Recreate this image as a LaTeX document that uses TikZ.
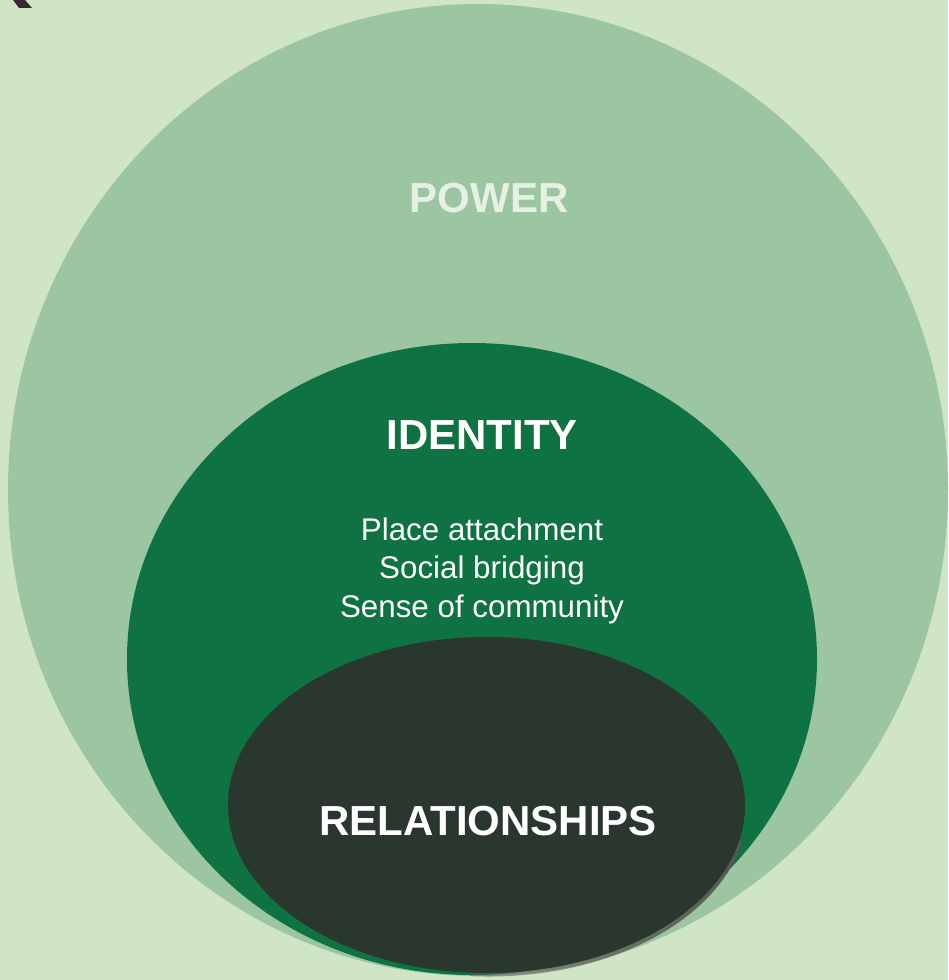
\documentclass[tikz,border=0pt]{standalone}
\usepackage{fontspec}
\setmainfont{Liberation Sans}
\usetikzlibrary{fadings}

\definecolor{bgpale}{RGB}{208,228,198}
\definecolor{powergreen}{RGB}{156,198,162}
\definecolor{identgreen}{RGB}{15,114,66}
\definecolor{relatdark}{RGB}{41,55,47}
\definecolor{shadowgrey}{RGB}{90,86,84}
\definecolor{markbrown}{RGB}{59,40,50}
\definecolor{powertext}{RGB}{230,240,228}

\tikzfading[name=fade shadow, left color=transparent!100, middle color=transparent!100, right color=transparent!0]

\begin{document}
\begin{tikzpicture}[x=0.75pt,y=0.75pt,yscale=-1,xscale=1,
  biglabel/.style={inner sep=0pt,anchor=base,font=\fontsize{31.5}{36}\selectfont\bfseries},
  itemlabel/.style={inner sep=0pt,anchor=base,text=white,font=\fontsize{23.5}{28}\selectfont}]
%Background
\useasboundingbox (0,0) rectangle (948,980);
\fill [bgpale] (0,0) rectangle (948,980);
%Mark in the corner
\fill [markbrown] (13,0) -- (25,0) -- (32,8) -- (19,8) -- cycle;
%Shape: Ellipse power
\fill [powergreen] (478,490) ellipse (470 and 486);
%Shape: Ellipse identity
\fill [identgreen] (472,659) ellipse (345 and 316);
%Shape: Ellipse relationships with shadow
\begin{scope}
\clip (470,840) rectangle (760,985);
\fill [shadowgrey, path fading=fade shadow] (488.5,808.5) ellipse (258.5 and 168);
\end{scope}
\fill [relatdark] (486.5,805) ellipse (258.5 and 168);
%Labels
\node [biglabel,text=powertext] (power) at (489,213) {POWER};
\node [biglabel,text=white] (identity) at (482,449) {IDENTITY};
\node [itemlabel] (place) at (482,540) {Place attachment};
\node [itemlabel] (bridging) at (482,578) {Social bridging};
\node [itemlabel] (sense) at (482,617) {Sense of community};
\node [biglabel,text=white] (relationships) at (488,835) {RELATIONSHIPS};
\end{tikzpicture}
\end{document}
